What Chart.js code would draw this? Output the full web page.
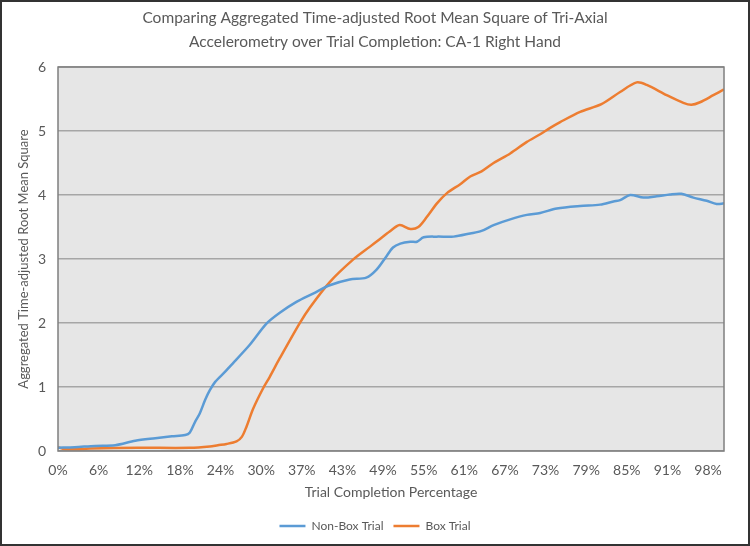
<!DOCTYPE html>
<html>
<head>
<meta charset="utf-8">
<script src="https://cdn.jsdelivr.net/npm/chart.js@4"></script>
<style>
  html, body { margin: 0; padding: 0; background: #fff; }
</style>
</head>
<body>
<canvas id="rmsChart" width="750" height="546"></canvas>
<script>
// values (x = trial completion %, y = aggregated RMS)
var nonBoxX = [0, 2.5, 5.6, 8.6, 11.6, 14.6, 17.1, 19.1, 19.8, 20.6, 21.3, 22.1, 22.8, 23.6, 25.1, 25.8, 28.8, 31.3, 33.3, 35.8, 38.3, 40.8, 43.8, 46.3, 47.8, 49.3, 50.3, 51.4, 52.9, 53.9, 54.9, 56.9, 59.4, 61.9, 63.6, 65.4, 67.9, 70.4, 72.4, 74.9, 78.4, 81.4, 83.4, 84.4, 85.9, 87.9, 89.9, 91.9, 93.6, 95.4, 97.4, 98.9, 100];
var nonBoxY = [0.05, 0.06, 0.08, 0.09, 0.16, 0.20, 0.23, 0.25, 0.29, 0.46, 0.59, 0.80, 0.95, 1.08, 1.24, 1.32, 1.66, 1.99, 2.16, 2.33, 2.46, 2.59, 2.68, 2.71, 2.83, 3.04, 3.18, 3.24, 3.27, 3.27, 3.34, 3.35, 3.35, 3.40, 3.44, 3.53, 3.62, 3.69, 3.72, 3.79, 3.83, 3.85, 3.90, 3.92, 4.00, 3.96, 3.98, 4.01, 4.02, 3.96, 3.91, 3.86, 3.87];

var boxX = [0, 1, 3.6, 4.8, 12, 19.8, 22.8, 24, 25.3, 26.8, 27.6, 28.3, 29.3, 30.8, 31.8, 33.3, 36.3, 37.8, 40.8, 44.3, 46.8, 48.3, 49.8, 51.3, 52.9, 54.1, 55.4, 56.9, 58.4, 60.4, 61.9, 63.6, 65.4, 67.9, 70.4, 72.4, 73.9, 75.4, 78.4, 81.6, 84.4, 86.9, 88.4, 91.4, 93.9, 95.1, 96.4, 98.4, 100];
var boxY = [0.06, 0.03, 0.03, 0.04, 0.05, 0.05, 0.07, 0.09, 0.11, 0.15, 0.22, 0.38, 0.66, 0.98, 1.16, 1.45, 2.00, 2.24, 2.64, 2.99, 3.19, 3.31, 3.43, 3.53, 3.47, 3.50, 3.66, 3.87, 4.03, 4.17, 4.29, 4.37, 4.50, 4.65, 4.83, 4.95, 5.05, 5.14, 5.30, 5.42, 5.61, 5.76, 5.72, 5.56, 5.44, 5.41, 5.45, 5.56, 5.65];

// x tick labels and where they sit along the axis
var xTickLabels = ['0%', '6%', '12%', '18%', '24%', '30%', '37%', '43%', '49%', '55%', '61%', '67%', '73%', '79%', '85%', '91%', '98%'];
var xTickPos = [0, 6.1, 12.2, 18.3, 24.4, 30.5, 36.6, 42.7, 48.8, 54.9, 61.0, 67.1, 73.2, 79.3, 85.4, 91.5, 97.6];

var textGray = '#595959';
var font = 'Lato, "Liberation Sans", sans-serif';

function toPoints(xs, ys) {
    return xs.map(function (x, i) { return { x: x, y: ys[i] }; });
}

// white page, outer frame, grey plot area with a border
var frame = {
    id: 'frame',
    beforeDraw: function (chart) {
        var c = chart.ctx, a = chart.chartArea;
        c.save();
        c.fillStyle = '#ffffff';
        c.fillRect(0, 0, chart.width, chart.height);
        c.fillStyle = '#e6e6e6';
        c.fillRect(a.left, a.top, a.right - a.left, a.bottom - a.top);
        c.restore();
    },
    afterDraw: function (chart) {
        var c = chart.ctx, a = chart.chartArea;
        c.save();
        c.strokeStyle = '#7f7f7f';
        c.lineWidth = 1.5;
        c.strokeRect(a.left, a.top, a.right - a.left, a.bottom - a.top);
        c.strokeStyle = '#333333';
        c.lineWidth = 2;
        c.strokeRect(1, 1, chart.width - 2, chart.height - 2);
        c.restore();
    }
};

var ctx = document.getElementById('rmsChart').getContext('2d');
var rmsChart = new Chart(ctx, {
    type: 'line',
    data: {
        datasets: [{
            label: 'Non-Box Trial',
            data: toPoints(nonBoxX, nonBoxY),
            borderColor: '#5b9bd5',
            backgroundColor: '#5b9bd5',
            borderWidth: 2.5,
            pointRadius: 0,
            tension: 0.3,
            fill: false
        }, {
            label: 'Box Trial',
            data: toPoints(boxX, boxY),
            borderColor: '#ed7d31',
            backgroundColor: '#ed7d31',
            borderWidth: 2.5,
            pointRadius: 0,
            tension: 0.3,
            fill: false
        }]
    },
    options: {
        responsive: false,
        animation: false,
        layout: { padding: { top: 0, right: 0, bottom: 4, left: 0 } },
        plugins: {
            title: {
                display: true,
                text: ['Comparing Aggregated Time-adjusted Root Mean Square of Tri-Axial',
                       'Accelerometry over Trial Completion: CA-1 Right Hand'],
                color: textGray,
                font: { family: font, size: 15.5, weight: 'normal', lineHeight: 1.55 },
                padding: { top: 6, bottom: 13 }
            },
            legend: {
                position: 'bottom',
                labels: {
                    color: textGray,
                    font: { family: font, size: 12 },
                    usePointStyle: true,
                    pointStyle: 'line',
                    pointStyleWidth: 26,
                    boxHeight: 12,
                    padding: 10
                }
            },
            tooltip: { enabled: false }
        },
        scales: {
            x: {
                type: 'linear',
                min: 0,
                max: 100,
                afterBuildTicks: function (scale) {
                    scale.ticks = xTickPos.map(function (v) { return { value: v }; });
                },
                afterFit: function (scale) { scale.height = 59; },
                grid: { display: false, drawTicks: false },
                border: { display: false },
                ticks: {
                    color: textGray,
                    font: { family: font, size: 14 },
                    padding: 11,
                    maxRotation: 0,
                    autoSkip: false,
                    callback: function (v, i) { return xTickLabels[i]; }
                },
                title: {
                    display: true,
                    text: 'Trial Completion Percentage',
                    color: textGray,
                    font: { family: font, size: 14 },
                    padding: { top: 4, bottom: 9 }
                }
            },
            y: {
                min: 0,
                max: 6,
                afterFit: function (scale) { scale.width = 58; },
                grid: { color: '#a6a6a6', lineWidth: 1.5, drawTicks: false },
                border: { display: false },
                ticks: {
                    stepSize: 1,
                    color: textGray,
                    font: { family: font, size: 14 },
                    padding: 12
                },
                title: {
                    display: true,
                    text: 'Aggregated Time-adjusted Root Mean Square',
                    color: textGray,
                    font: { family: font, size: 13 },
                    padding: { top: 16, bottom: 0 }
                }
            },
            // empty right-hand strip so the plot ends where the reference does
            yRight: {
                position: 'right',
                afterFit: function (scale) { scale.width = 26; },
                grid: { display: false, drawTicks: false },
                border: { display: false },
                ticks: { display: false }
            }
        }
    },
    plugins: [frame]
});
</script>
</body>
</html>
